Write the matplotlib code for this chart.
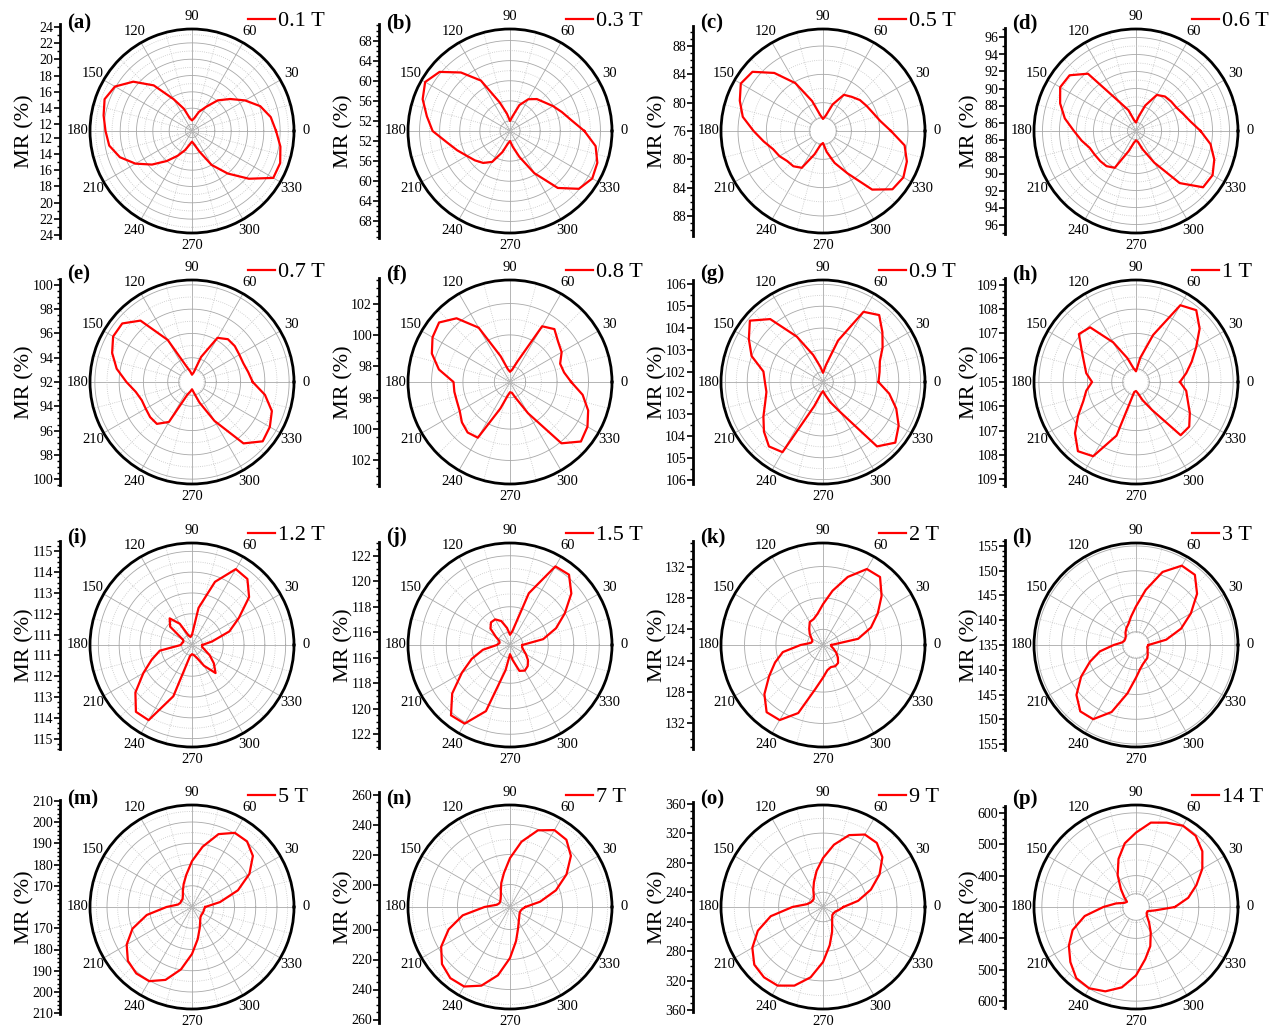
import numpy as np
import matplotlib.pyplot as plt

plt.rcParams['font.family'] = ['Liberation Serif', 'DejaVu Serif']

# angle (deg) of every MR reading
angles = np.arange(0, 360, 10)

# MR (%), one value per 10 deg
mr_a = [21.5, 21.0, 20.1, 18.7, 17.3, 16.1, 14.6, 13.7, 12.8, 12.5, 12.8, 14.1,
        15.7, 18.5, 20.6, 22.1, 22.6, 22.2, 21.8, 21.5, 20.6, 19.2, 17.6, 16.0,
        14.7, 13.7, 12.9, 12.5, 12.9, 13.9, 16.0, 18.0, 20.3, 22.7, 22.7, 22.2]
mr_b = [64.8, 62.4, 61.0, 59.9, 58.9, 58.3, 57.3, 55.5, 53.0, 52.0, 53.5, 56.1,
        61.6, 65.2, 68.3, 69.5, 68.5, 66.8, 65.4, 62.8, 61.2, 59.9, 59.1, 58.3,
        57.1, 54.5, 52.6, 52.0, 53.2, 55.5, 59.7, 64.8, 67.9, 68.9, 68.5, 67.3]
mr_c = [85.6, 84.2, 83.5, 83.1, 82.8, 82.3, 81.9, 80.0, 78.2, 77.7, 78.3, 80.5,
        83.8, 86.7, 89.0, 89.4, 88.5, 87.5, 85.8, 84.5, 83.5, 83.1, 82.6, 82.5,
        82.0, 79.5, 78.0, 77.7, 79.0, 80.8, 82.9, 86.8, 88.8, 89.1, 88.6, 87.7]
mr_d = [92.6, 91.5, 90.9, 90.5, 90.4, 90.3, 89.9, 88.2, 86.7, 86.0, 86.3, 87.6,
        89.0, 93.8, 95.2, 95.3, 94.5, 93.5, 92.3, 91.5, 90.8, 90.6, 90.5, 90.4,
        90.0, 87.5, 86.4, 86.1, 86.3, 87.3, 89.3, 93.0, 95.3, 95.4, 94.8, 93.9]
mr_e = [97.0, 96.7, 96.5, 96.5, 96.6, 96.6, 96.2, 94.2, 92.8, 92.6, 92.9, 93.4,
        96.0, 98.6, 99.5, 99.5, 99.0, 98.3, 97.4, 96.7, 96.4, 96.4, 96.5, 96.5,
        95.8, 93.1, 92.8, 92.6, 92.9, 93.8, 95.7, 98.6, 99.6, 99.4, 99.0, 98.1]
mr_f = [100.9, 100.5, 100.4, 100.8, 101.0, 101.4, 101.1, 98.4, 97.8, 97.65, 97.85, 98.75,
        101.0, 102.3, 102.9, 102.7, 102.3, 101.6, 100.6, 100.6, 100.6, 100.7, 101.0, 101.2,
        101.1, 98.8, 97.9, 97.65, 97.7, 98.1, 99.3, 102.1, 102.9, 102.7, 102.3, 101.7]
mr_g = [104.07, 104.16, 104.30, 104.68, 105.08, 105.53, 105.24, 103.55, 102.33, 101.95, 102.24, 102.85,
        103.93, 105.29, 105.90, 105.45, 105.01, 104.30, 104.19, 104.16, 104.35, 104.68, 105.06, 105.38,
        105.24, 102.71, 102.09, 101.95, 102.14, 102.52, 103.13, 105.38, 105.85, 105.53, 105.10, 104.61]
mr_h = [106.81, 107.10, 107.44, 107.86, 108.42, 108.86, 108.65, 107.06, 106.01, 105.44, 105.57, 106.05,
        106.89, 107.94, 108.07, 107.58, 107.27, 107.08, 106.81, 107.08, 107.31, 107.75, 108.28, 108.72,
        108.53, 107.35, 105.42, 105.37, 105.48, 105.80, 106.34, 107.86, 107.86, 107.56, 107.27, 107.10]
mr_i = [110.99, 111.48, 112.41, 113.10, 114.08, 114.64, 114.71, 113.73, 112.31, 110.99, 110.89, 110.99,
        111.68, 112.17, 111.87, 110.99, 110.94, 110.99, 111.04, 112.07, 112.56, 113.20, 114.05, 114.69,
        114.67, 113.12, 111.04, 110.94, 110.99, 111.14, 111.65, 112.26, 111.87, 111.48, 111.14, 110.99]
mr_j = [115.96, 117.64, 118.84, 119.96, 121.28, 122.20, 122.12, 119.32, 116.12, 115.80, 116.36, 117.00,
        117.32, 117.32, 117.00, 116.28, 115.88, 115.84, 116.04, 117.16, 118.20, 119.36, 120.92, 122.20,
        122.12, 120.52, 117.00, 115.72, 116.20, 117.16, 117.32, 117.16, 116.84, 116.44, 116.12, 115.96]
mr_k = [123.04, 126.55, 128.50, 130.06, 131.75, 133.31, 133.18, 131.23, 129.02, 127.20, 126.03, 125.51,
        125.38, 124.73, 124.21, 123.69, 123.43, 123.56, 124.86, 127.20, 128.50, 129.93, 131.75, 133.18,
        133.05, 131.23, 127.72, 126.16, 125.25, 124.99, 125.12, 124.99, 124.47, 123.95, 123.43, 123.10]
mr_l = [137.5, 141.2, 144.7, 147.8, 151.1, 153.5, 153.5, 150.7, 146.3, 142.8, 140.8, 139.5,
        138.9, 138.3, 137.7, 137.5, 137.5, 137.9, 139.5, 142.4, 144.9, 147.8, 150.7, 152.5,
        152.3, 149.4, 144.9, 141.6, 139.9, 139.1, 138.7, 138.5, 138.1, 137.7, 137.5, 137.3]
mr_m = [166.2, 173.4, 183.0, 191.2, 197.4, 200.3, 200.3, 196.5, 188.8, 181.6, 175.4, 171.5,
        168.6, 166.7, 165.8, 165.8, 165.8, 166.7, 172.0, 181.6, 189.8, 195.5, 199.4, 200.8,
        200.3, 196.5, 189.8, 182.1, 175.4, 170.6, 167.7, 166.2, 165.8, 165.8, 165.8, 165.8]
mr_n = [195.2, 205.4, 217.6, 228.5, 238.0, 243.5, 244.2, 239.4, 229.2, 217.6, 208.1, 202.0,
        197.2, 194.5, 193.2, 192.5, 192.5, 193.8, 202.0, 217.0, 228.5, 238.0, 244.2, 246.9,
        246.2, 240.8, 231.2, 219.0, 208.1, 200.6, 196.6, 194.5, 193.2, 192.5, 192.5, 193.2]
mr_o = [247.6, 268.3, 289.0, 308.3, 324.9, 333.2, 333.2, 323.5, 305.6, 286.2, 269.7, 255.9,
        246.2, 239.3, 236.6, 236.6, 237.9, 242.1, 261.4, 291.8, 313.8, 330.4, 341.4, 344.2,
        342.8, 333.2, 316.6, 294.5, 272.4, 255.9, 244.8, 239.3, 236.6, 236.6, 237.9, 242.1]
mr_p = [424, 469, 505, 544, 576, 596, 599, 586, 573, 537, 506, 463,
        417, 375, 349, 333, 339, 365, 404, 466, 515, 547, 573, 596,
        599, 586, 560, 518, 469, 433, 394, 365, 346, 339, 339, 362]

curves = [mr_a, mr_b, mr_c, mr_d, mr_e, mr_f, mr_g, mr_h,
          mr_i, mr_j, mr_k, mr_l, mr_m, mr_n, mr_o, mr_p]
fields = ['0.1 T', '0.3 T', '0.5 T', '0.6 T', '0.7 T', '0.8 T', '0.9 T', '1 T',
          '1.2 T', '1.5 T', '2 T', '3 T', '5 T', '7 T', '9 T', '14 T']
panel_tags = ['(a)', '(b)', '(c)', '(d)', '(e)', '(f)', '(g)', '(h)',
              '(i)', '(j)', '(k)', '(l)', '(m)', '(n)', '(o)', '(p)']

# radial scale of each panel: value at the centre, at the outer circle,
# and at the end of the MR axis drawn on the left
r_center = [11.2, 50, 76, 85, 92, 97, 101.53, 105, 110.5, 115, 122, 135, 160, 185, 220, 300]
r_outer = [23.7, 70.3, 90.4, 97, 100.4, 103.5, 106.2, 109.2, 115.4, 123, 135, 155.6, 208, 253, 358, 625]
r_axis_end = [24.3, 71.2, 90.8, 97.1, 100.5, 103.6, 106.2, 109.3, 115.5, 123.1, 135.3, 156.2, 210.5, 262, 362, 623]
mr_ticks = [
    [12, 14, 16, 18, 20, 22, 24],
    [52, 56, 60, 64, 68],
    [76, 80, 84, 88],
    [86, 88, 90, 92, 94, 96],
    [92, 94, 96, 98, 100],
    [98, 100, 102],
    [102, 103, 104, 105, 106],
    [105, 106, 107, 108, 109],
    [111, 112, 113, 114, 115],
    [116, 118, 120, 122],
    [124, 128, 132],
    [135, 140, 145, 150, 155],
    [170, 180, 190, 200, 210],
    [200, 220, 240, 260],
    [240, 280, 320, 360],
    [300, 400, 500, 600],
]
minor_step = [1, 1, 1, 1, 0.5, 0.5, 0.5, 0.25, 0.25, 0.5, 1, 1, 2, 5, 10, 20]
hole = [False, False, True, False, True, False, False, True,
        False, False, False, True, False, False, False, True]

W, H = 1271, 1032
col_x = [192, 510, 823, 1136]
row_y = [131, 382, 645, 907]
spine_x = [60, 379, 693, 1005]
R = 102

fig = plt.figure(figsize=(W / 100, H / 100), dpi=100)

theta = np.deg2rad(np.append(angles, 360))
full = np.linspace(0, 2 * np.pi, 361)

for i, vals in enumerate(curves):
    row, col = divmod(i, 4)
    cx, cy = col_x[col], row_y[row]
    r0, r1 = r_center[i], r_outer[i]

    ax = fig.add_axes([(cx - R) / W, 1 - (cy + R) / H, 2 * R / W, 2 * R / H],
                      projection='polar')
    ax.set_ylim(r0, r1)
    ax.grid(False)
    ax.set_yticks([])

    # grid: solid spokes every 30 deg, dotted in between
    r_in = r0 + (0.13 * (r1 - r0) if hole[i] else 0)
    for d in range(0, 360, 15):
        ax.plot([np.deg2rad(d)] * 2, [r_in, r1], color='#a8a8a8' if d % 30 == 0 else '#c4c4c4',
                lw=0.6, ls='-' if d % 30 == 0 else ':', zorder=1)
    for t in mr_ticks[i]:
        if r0 < t < r1:
            ax.plot(full, np.full_like(full, t), color='#a8a8a8', lw=0.6, zorder=1)
    step = mr_ticks[i][1] - mr_ticks[i][0]
    for t in mr_ticks[i]:
        m = t - step / 2
        if r0 < m < r1:
            ax.plot(full, np.full_like(full, m), color='#c4c4c4', lw=0.6,
                    ls=':', zorder=1)
    if hole[i]:
        ax.plot(full, np.full_like(full, r_in), color='#a8a8a8', lw=0.6, zorder=1)

    vals_closed = np.append(vals, vals[0])
    ax.plot(theta, vals_closed, color='red', lw=1.6, zorder=3, label=fields[i])

    ax.set_xticks(np.deg2rad(np.arange(0, 360, 30)))
    ax.set_xticklabels([str(d) for d in range(0, 360, 30)], fontsize=10.5)
    ax.set_xticks(np.deg2rad(np.arange(15, 360, 30)), minor=True)
    ax.tick_params(axis='x', which='major', direction='in', length=5, width=1.3, pad=2)
    ax.tick_params(axis='x', which='minor', direction='in', length=3, width=1.0)
    ax.spines['polar'].set_linewidth(2)

    ax.legend(loc='center left', frameon=False, fontsize=16,
              handlelength=1.2, handletextpad=0.15, borderpad=0, borderaxespad=0,
              bbox_to_anchor=((cx + 56) / W, 1 - (cy - 110) / H),
              bbox_transform=fig.transFigure)

    # mirrored MR axis on the left
    ext = r_axis_end[i] - r0
    ext_px = R * ext / (r1 - r0)
    sx = spine_x[col]
    lax = fig.add_axes([sx / W, 1 - (cy + ext_px) / H, 0.0005, 2 * ext_px / H])
    lax.set_ylim(-ext, ext)
    for s in ['top', 'right', 'bottom']:
        lax.spines[s].set_visible(False)
    lax.spines['left'].set_linewidth(2)
    lax.set_xticks([])
    pos, lab = [], []
    for t in mr_ticks[i]:
        for sgn in ([1, -1] if t != r0 else [1]):
            pos.append(sgn * (t - r0))
            lab.append('%g' % t)
    lax.set_yticks(pos)
    lax.set_yticklabels(lab, fontsize=10)
    mvals = np.arange(r0 - (r0 % minor_step[i]) + minor_step[i], r_axis_end[i] + 1e-9, minor_step[i])
    mpos = np.concatenate([mvals - r0, -(mvals - r0)])
    lax.set_yticks(mpos, minor=True)
    lax.tick_params(axis='y', which='major', direction='out', length=4, width=1.2, pad=1)
    lax.tick_params(axis='y', which='minor', direction='out', length=2.5, width=1.0)

    fig.text((sx - 35) / W, 1 - cy / H, 'MR (%)', rotation=90, fontsize=16,
             ha='center', va='center')
    fig.text((sx + 7) / W, 1 - (cy - 108) / H, panel_tags[i], fontsize=15,
             fontweight='bold', ha='left', va='center')

fig.savefig('out.png', dpi=100)
